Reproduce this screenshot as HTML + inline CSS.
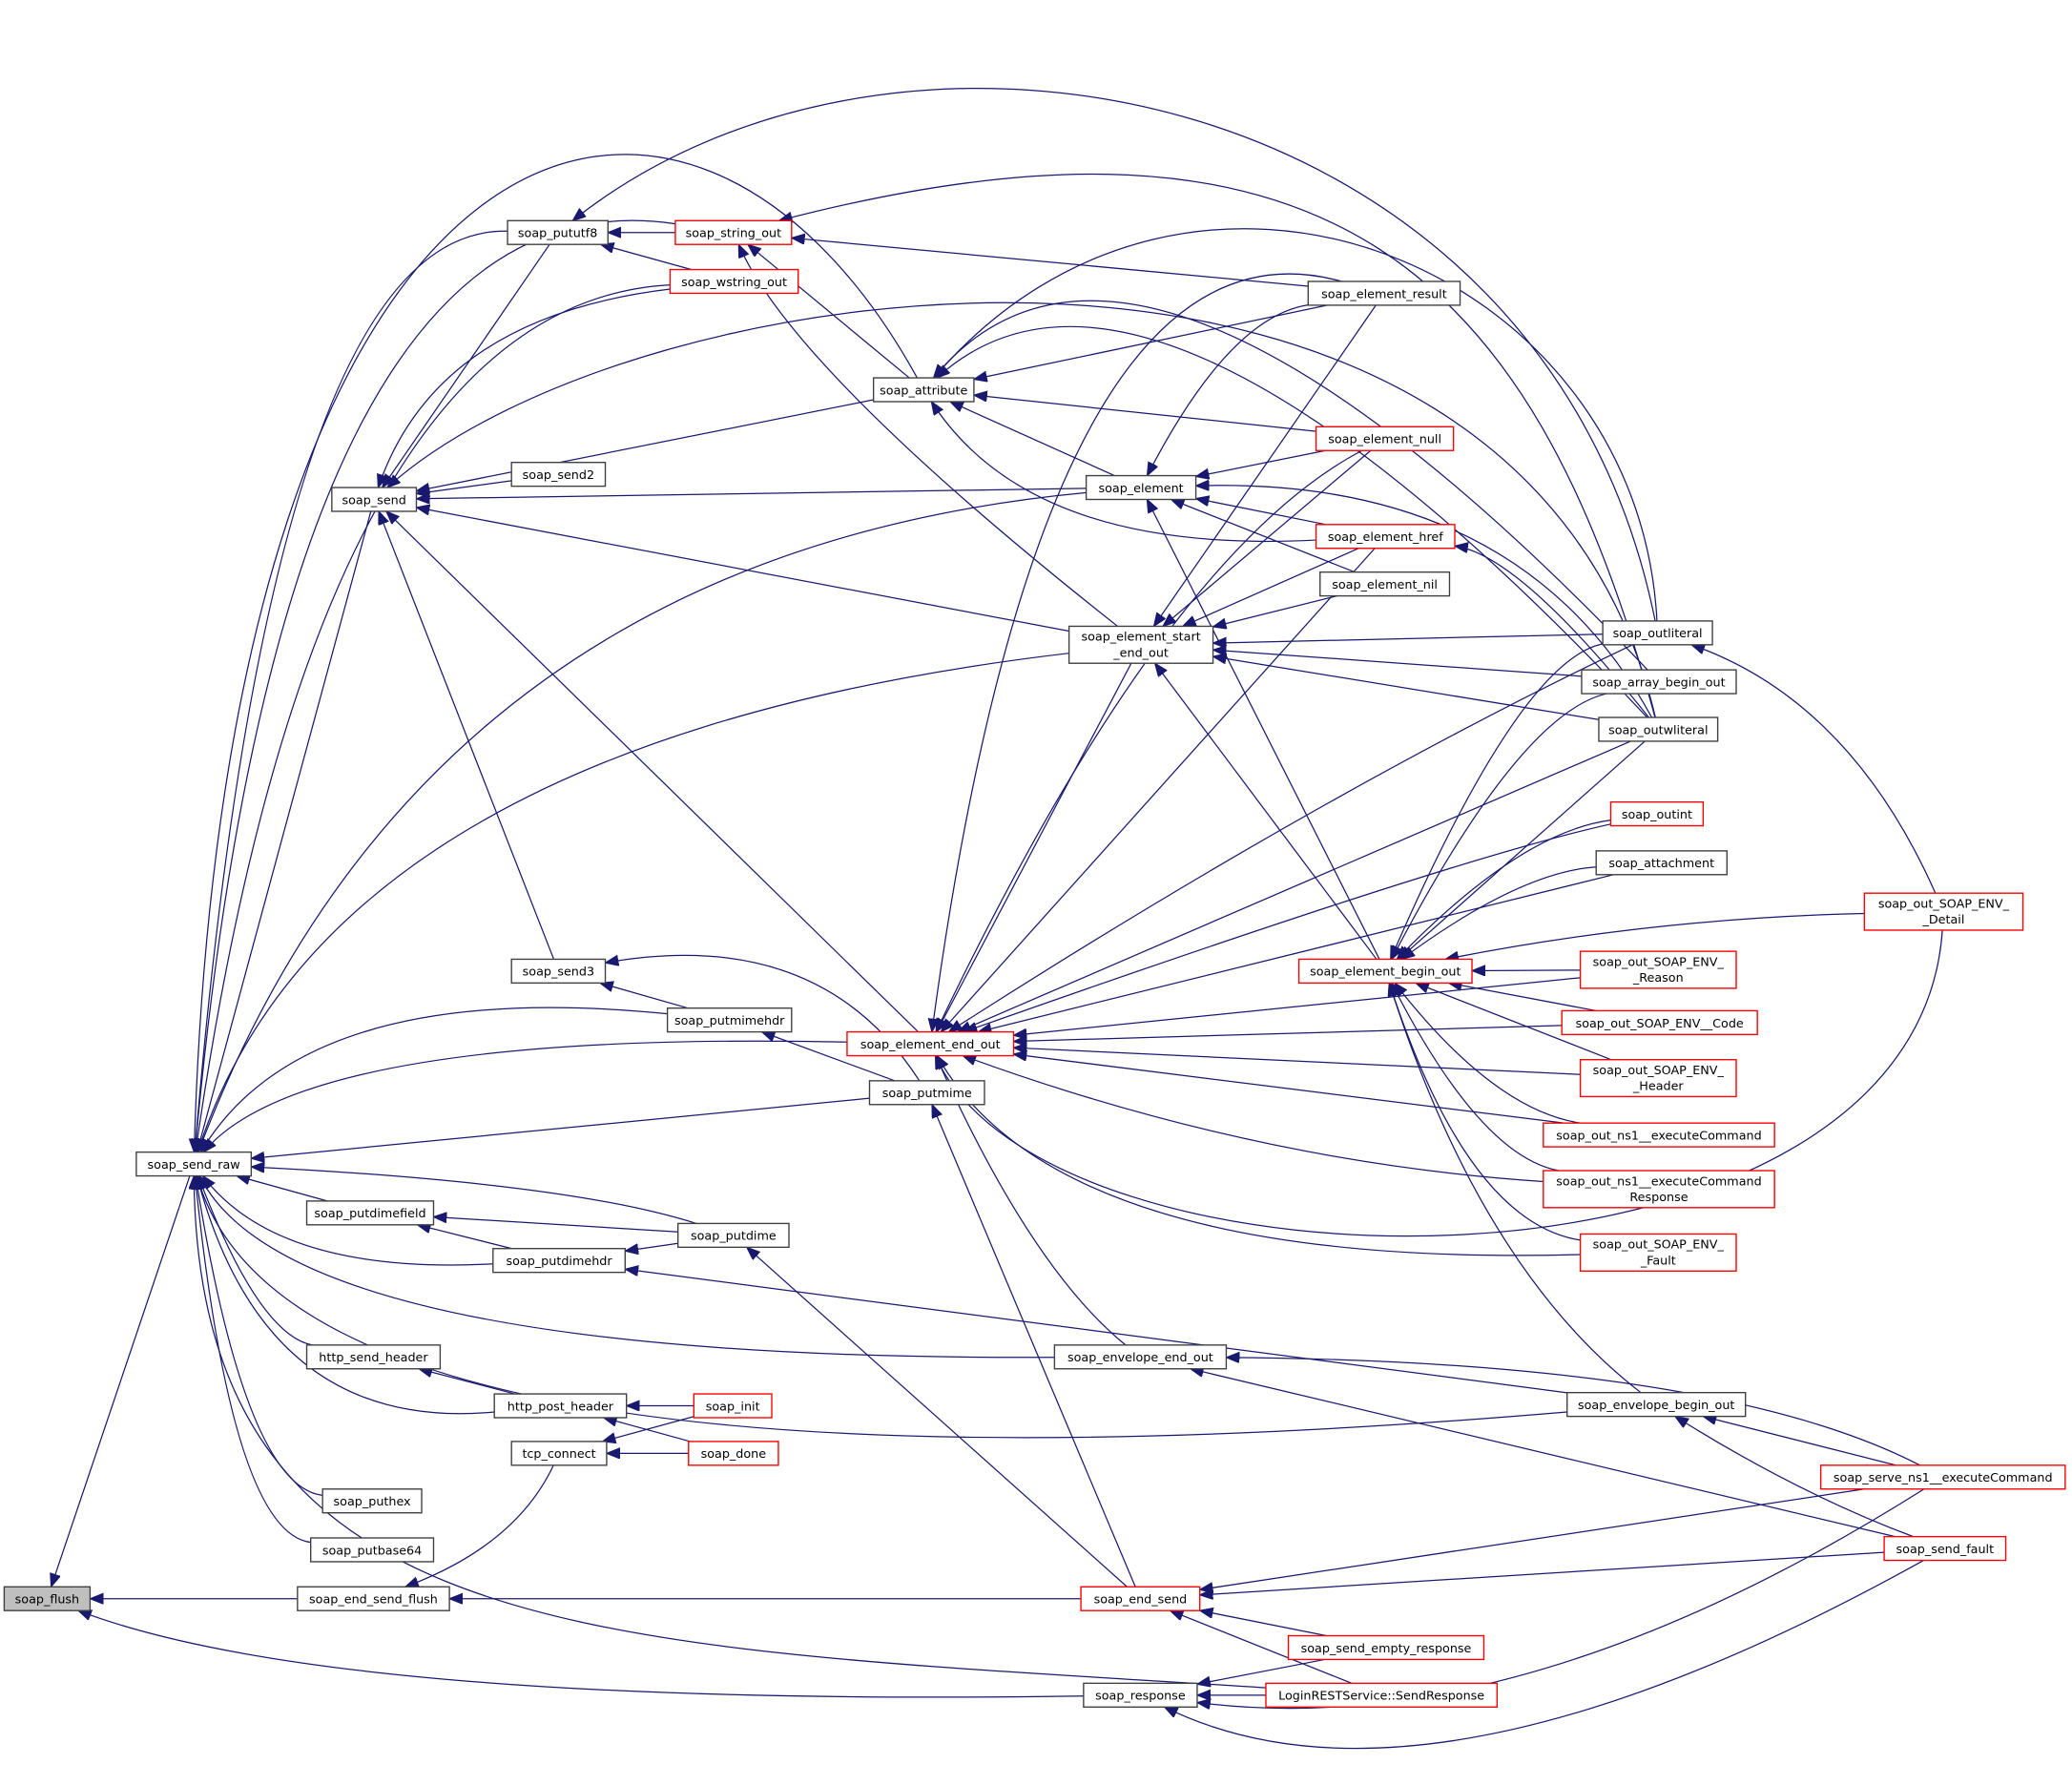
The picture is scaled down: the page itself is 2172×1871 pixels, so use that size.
<!DOCTYPE html>
<html><head><meta charset="utf-8"><style>
html,body{margin:0;padding:0;background:#fff;}
svg{display:block;}
.n rect{fill:#fff;stroke:#404040;stroke-width:1;}
.n.r rect{stroke:#ff0000;}
.n.g rect{fill:#bfbfbf;}
.n text{font-family:"DejaVu Sans","Liberation Sans",sans-serif;font-size:9.2px;fill:#000;text-anchor:middle;}
.e{fill:none;stroke:#191970;stroke-width:0.9;}
</style></head><body>
<svg id="s" width="2172" height="1871" viewBox="0 0 1568 1351" xmlns="http://www.w3.org/2000/svg">
<defs><marker id="a" markerUnits="userSpaceOnUse" markerWidth="12" markerHeight="10" refX="10" refY="4" orient="auto"><path d="M0,0 L10,4 L0,8 z" fill="#191970" stroke="#191970" stroke-width="0.8"/></marker></defs>
<g id="edges"></g>
<g id="nodes">
<g class="n g" id="flush"><rect x="3" y="1201" width="65" height="18"/><text x="35.5" y="1213.5">soap_flush</text></g>
<g class="n" id="send_raw"><rect x="103" y="872" width="87" height="18"/><text x="146.5" y="884.5">soap_send_raw</text></g>
<g class="n" id="end_send_flush"><rect x="225" y="1201" width="115" height="18"/><text x="282.5" y="1213.5">soap_end_send_flush</text></g>
<g class="n" id="pututf8"><rect x="384" y="167" width="76" height="18"/><text x="422" y="179.5">soap_pututf8</text></g>
<g class="n r" id="string_out"><rect x="511" y="167" width="88" height="18"/><text x="555" y="179.5">soap_string_out</text></g>
<g class="n r" id="wstring_out"><rect x="507" y="204" width="97" height="18"/><text x="555.5" y="216.5">soap_wstring_out</text></g>
<g class="n" id="attribute"><rect x="661" y="286" width="76" height="18"/><text x="699" y="298.5">soap_attribute</text></g>
<g class="n" id="send"><rect x="251" y="369" width="64" height="18"/><text x="283" y="381.5">soap_send</text></g>
<g class="n" id="send2"><rect x="387" y="350" width="71" height="18"/><text x="422.5" y="362.5">soap_send2</text></g>
<g class="n" id="element"><rect x="822" y="360" width="83" height="18"/><text x="863.5" y="372.5">soap_element</text></g>
<g class="n" id="element_result"><rect x="990" y="213" width="115" height="18"/><text x="1047.5" y="225.5">soap_element_result</text></g>
<g class="n r" id="element_null"><rect x="996" y="323" width="104" height="18"/><text x="1048" y="335.5">soap_element_null</text></g>
<g class="n r" id="element_href"><rect x="996" y="397" width="105" height="18"/><text x="1048.5" y="409.5">soap_element_href</text></g>
<g class="n" id="element_nil"><rect x="999" y="433" width="98" height="18"/><text x="1048" y="445.5">soap_element_nil</text></g>
<g class="n" id="sed"><rect x="809" y="474" width="109" height="28"/><text x="863.5" y="485">soap_element_start</text><text x="863.5" y="497">_end_out</text></g>
<g class="n" id="outliteral"><rect x="1213" y="470" width="83" height="18"/><text x="1254.5" y="482.5">soap_outliteral</text></g>
<g class="n" id="array_begin_out"><rect x="1197" y="507" width="117" height="18"/><text x="1255.5" y="519.5">soap_array_begin_out</text></g>
<g class="n" id="outwliteral"><rect x="1210" y="543" width="90" height="18"/><text x="1255" y="555.5">soap_outwliteral</text></g>
<g class="n r" id="outint"><rect x="1219" y="607" width="70" height="18"/><text x="1254" y="619.5">soap_outint</text></g>
<g class="n" id="attachment"><rect x="1208" y="644" width="99" height="18"/><text x="1257.5" y="656.5">soap_attachment</text></g>
<g class="n r" id="Detail"><rect x="1411" y="676" width="120" height="28"/><text x="1471" y="687">soap_out_SOAP_ENV_</text><text x="1471" y="699">_Detail</text></g>
<g class="n r" id="ebo"><rect x="983" y="726" width="131" height="18"/><text x="1048.5" y="738.5">soap_element_begin_out</text></g>
<g class="n r" id="Reason"><rect x="1196" y="720" width="118" height="28"/><text x="1255" y="731">soap_out_SOAP_ENV_</text><text x="1255" y="743">_Reason</text></g>
<g class="n r" id="Code"><rect x="1182" y="765" width="148" height="18"/><text x="1256" y="777.5">soap_out_SOAP_ENV__Code</text></g>
<g class="n r" id="Header"><rect x="1196" y="802" width="118" height="28"/><text x="1255" y="813">soap_out_SOAP_ENV_</text><text x="1255" y="825">_Header</text></g>
<g class="n r" id="exec"><rect x="1168" y="850" width="175" height="18"/><text x="1255.5" y="862.5">soap_out_ns1__executeCommand</text></g>
<g class="n r" id="execResp"><rect x="1168" y="886" width="175" height="28"/><text x="1255.5" y="897">soap_out_ns1__executeCommand</text><text x="1255.5" y="909">Response</text></g>
<g class="n r" id="Fault"><rect x="1196" y="934" width="118" height="28"/><text x="1255" y="945">soap_out_SOAP_ENV_</text><text x="1255" y="957">_Fault</text></g>
<g class="n" id="env_begin"><rect x="1186" y="1054" width="135" height="18"/><text x="1253.5" y="1066.5">soap_envelope_begin_out</text></g>
<g class="n r" id="serve"><rect x="1378" y="1109" width="185" height="18"/><text x="1470.5" y="1121.5">soap_serve_ns1__executeCommand</text></g>
<g class="n r" id="send_fault"><rect x="1426" y="1163" width="92" height="18"/><text x="1472" y="1175.5">soap_send_fault</text></g>
<g class="n r" id="end_send"><rect x="818" y="1201" width="90" height="18"/><text x="863" y="1213.5">soap_end_send</text></g>
<g class="n r" id="empty"><rect x="975" y="1238" width="148" height="18"/><text x="1049" y="1250.5">soap_send_empty_response</text></g>
<g class="n r" id="login"><rect x="958" y="1274" width="175" height="18"/><text x="1045.5" y="1286.5">LoginRESTService::SendResponse</text></g>
<g class="n" id="response"><rect x="820" y="1274" width="86" height="18"/><text x="863" y="1286.5">soap_response</text></g>
<g class="n" id="env_end"><rect x="798" y="1018" width="130" height="18"/><text x="863" y="1030.5">soap_envelope_end_out</text></g>
<g class="n r" id="eeo"><rect x="641" y="781" width="126" height="18"/><text x="704" y="793.5">soap_element_end_out</text></g>
<g class="n" id="putmime"><rect x="658" y="818" width="87" height="18"/><text x="701.5" y="830.5">soap_putmime</text></g>
<g class="n" id="putdime"><rect x="513" y="926" width="84" height="18"/><text x="555" y="938.5">soap_putdime</text></g>
<g class="n" id="send3"><rect x="387" y="726" width="71" height="18"/><text x="422.5" y="738.5">soap_send3</text></g>
<g class="n" id="putmimehdr"><rect x="505" y="763" width="94" height="18"/><text x="552" y="775.5">soap_putmimehdr</text></g>
<g class="n" id="putdimefield"><rect x="232" y="909" width="96" height="18"/><text x="280" y="921.5">soap_putdimefield</text></g>
<g class="n" id="putdimehdr"><rect x="373" y="945" width="100" height="18"/><text x="423" y="957.5">soap_putdimehdr</text></g>
<g class="n" id="http_send"><rect x="232" y="1018" width="101" height="18"/><text x="282.5" y="1030.5">http_send_header</text></g>
<g class="n" id="http_post"><rect x="374" y="1055" width="100" height="18"/><text x="424" y="1067.5">http_post_header</text></g>
<g class="n r" id="init"><rect x="525" y="1055" width="59" height="18"/><text x="554.5" y="1067.5">soap_init</text></g>
<g class="n r" id="done"><rect x="521" y="1091" width="68" height="18"/><text x="555" y="1103.5">soap_done</text></g>
<g class="n" id="tcp"><rect x="387" y="1091" width="72" height="18"/><text x="423" y="1103.5">tcp_connect</text></g>
<g class="n" id="puthex"><rect x="244" y="1127" width="75" height="18"/><text x="281.5" y="1139.5">soap_puthex</text></g>
<g class="n" id="putbase64"><rect x="235" y="1164" width="93" height="18"/><text x="281.5" y="1176.5">soap_putbase64</text></g>
</g>
</svg>
<script>
(function(){
var NS="http://www.w3.org/2000/svg";
function box(id){var r=document.querySelector('#'+id+' rect');return{x:+r.getAttribute('x'),y:+r.getAttribute('y'),w:+r.getAttribute('width'),h:+r.getAttribute('height')};}
function clip(b,px,py){var cx=b.x+b.w/2,cy=b.y+b.h/2,dx=px-cx,dy=py-cy;if(dx==0&&dy==0)return[cx,cy];var t=Math.min(dx?Math.abs(b.w/2/dx):1e9,dy?Math.abs(b.h/2/dy):1e9);return[cx+dx*t,cy+dy*t];}
var E=[
['send_raw','flush'],['end_send_flush','flush'],['response','flush',250,1292],
['pututf8','send_raw',205,170],['string_out','send_raw',215,125],['wstring_out','send_raw',240,230],
['attribute','send_raw',520,-30,170,60],['send','send_raw'],['element','send_raw',320,420],
['sed','send_raw',250,560],['eeo','send_raw',230,780],['putmimehdr','send_raw',230,740],
['putmime','send_raw'],['putdimefield','send_raw'],['putdime','send_raw',430,895],
['putdimehdr','send_raw',210,965],['http_send','send_raw',195,1010],['http_post','send_raw',200,1085],
['puthex','send_raw',185,1125],['putbase64','send_raw',175,1160],['env_end','send_raw',220,1030],
['env_begin','send_raw',220,1150],['login','send_raw',450,1245,150,1250],
['outliteral','pututf8',1170,60,680,-30],['end_send','end_send_flush'],['tcp','end_send_flush',390,1170],
['string_out','pututf8'],['wstring_out','pututf8'],['pututf8','send'],['wstring_out','send',330,240],
['outwliteral','send',1150,110,480,200],
['attribute','send'],['send2','send'],['element','send'],['sed','send'],['send3','send'],['eeo','send'],
['attribute','string_out'],['sed','string_out',600,280],['element_result','string_out'],['outwliteral','string_out',1160,200,1000,60],
['element_result','attribute'],['element_null','attribute'],['element','attribute'],['element_href','attribute',780,420],
['outliteral','attribute',1240,200,900,60],['array_begin_out','attribute',860,100],['outwliteral','attribute',870,140],
['element_null','element'],['element_href','element'],['element_nil','element'],['element_result','element',930,240],
['outwliteral','element',1150,360],['ebo','element'],
['element_null','sed'],['element_href','sed'],['element_nil','sed'],['element_result','sed'],['outliteral','sed'],
['array_begin_out','sed'],['outwliteral','sed'],['ebo','sed'],
['outwliteral','element_href',1150,420],['Detail','outliteral',1400,530],
['outliteral','ebo',1150,500],['array_begin_out','ebo',1150,540],['outwliteral','ebo'],['outint','ebo',1150,630],
['attachment','ebo',1150,660],['Detail','ebo',1250,695],['Reason','ebo'],['Code','ebo'],['Header','ebo'],
['exec','ebo',1130,840],['execResp','ebo',1120,875],['Fault','ebo',1110,925],['env_begin','ebo',1120,960],
['element_result','eeo',790,150],['element_null','eeo',880,420],['element_href','eeo'],['outliteral','eeo',1000,600],
['outwliteral','eeo'],['outint','eeo',1100,650],['attachment','eeo'],['Reason','eeo'],['Code','eeo'],['Header','eeo'],
['exec','eeo'],['execResp','eeo',950,880],['Fault','eeo',800,960],['Detail','eeo',1450,1000,790,990],
['env_end','eeo',780,960],['sed','eeo'],
['putmime','putmimehdr'],['putmimehdr','send3'],['putmime','send3',620,700],['end_send','putmime'],
['putdime','putdimefield'],['putdimehdr','putdimefield'],['putdime','putdimehdr'],['env_begin','putdimehdr'],
['end_send','putdime'],['http_post','http_send'],['init','http_post'],['done','http_post'],['init','tcp'],['done','tcp'],
['serve','end_send'],['send_fault','end_send'],['empty','end_send'],['login','end_send'],
['serve','env_end',1300,1030],['send_fault','env_end'],['serve','env_begin'],['send_fault','env_begin',1360,1130],
['empty','response'],['login','response'],['serve','response',1150,1320],['send_fault','response',1080,1390]
];
var g=document.getElementById('edges');
E.forEach(function(e){
 var a=box(e[0]),b=box(e[1]),d;
 var ac=[a.x+a.w/2,a.y+a.h/2],bc=[b.x+b.w/2,b.y+b.h/2];
 if(e.length==2){var s=clip(a,bc[0],bc[1]),t=clip(b,ac[0],ac[1]);d='M'+s+' L'+t;}
 else if(e.length==4){var s=clip(a,e[2],e[3]),t=clip(b,e[2],e[3]);d='M'+s+' Q'+e[2]+','+e[3]+' '+t;}
 else{var s=clip(a,e[2],e[3]),t=clip(b,e[4],e[5]);d='M'+s+' C'+e[2]+','+e[3]+' '+e[4]+','+e[5]+' '+t;}
 var p=document.createElementNS(NS,'path');p.setAttribute('d',d);p.setAttribute('class','e');p.setAttribute('marker-end','url(#a)');g.appendChild(p);
});
})();
</script>
</body></html>
